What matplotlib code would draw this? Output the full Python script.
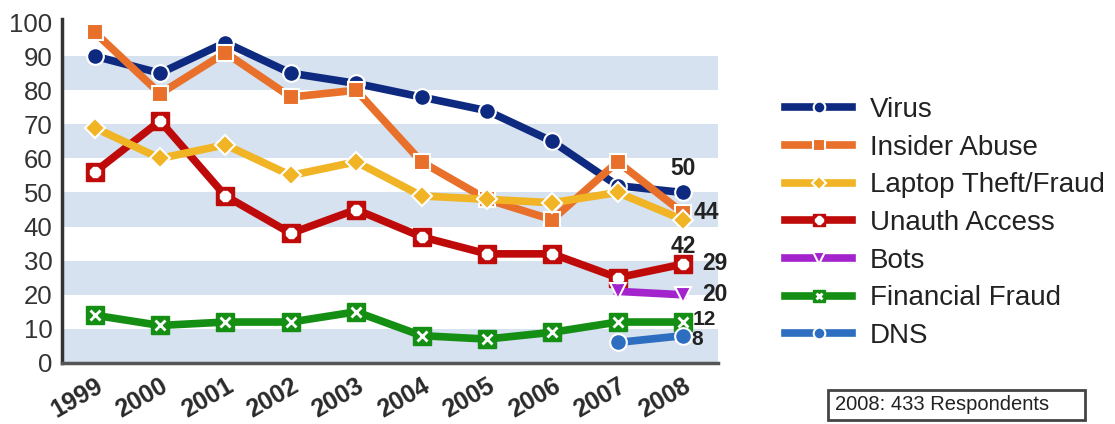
import numpy as np
import matplotlib
matplotlib.use("Agg")
import matplotlib.pyplot as plt
from matplotlib.patches import Rectangle
from matplotlib.legend_handler import HandlerTuple

# ─── Data ────────────────────────────────────────────────────────────
years = [1999, 2000, 2001, 2002, 2003, 2004, 2005, 2006, 2007, 2008]
years_new = [2007, 2008]

virus = [90, 85, 94, 85, 82, 78, 74, 65, 52, 50]
insider_abuse = [97, 79, 91, 78, 80, 59, 48, 42, 59, 44]
laptop_theft = [69, 60, 64, 55, 59, 49, 48, 47, 50, 42]
unauth_access = [56, 71, 49, 38, 45, 37, 32, 32, 25, 29]
bots = [21, 20]
financial_fraud = [14, 11, 12, 12, 15, 8, 7, 9, 12, 12]
dns = [6, 8]

series_names = ["Virus", "Insider Abuse", "Laptop Theft/Fraud", "Unauth Access",
                "Bots", "Financial Fraud", "DNS"]
end_labels = ["50", "44", "42", "29", "20", "12", "8"]

# ─── Figure ──────────────────────────────────────────────────────────
plt.rcParams['font.family'] = ['Liberation Sans', 'DejaVu Sans']
fig = plt.figure(figsize=(11.15, 4.24), dpi=100)
ax = fig.add_axes([0.0556, 0.144, 0.588, 0.804])

# striped background
for lo in range(0, 100, 20):
    ax.axhspan(lo, lo + 10, color='#d6e2ef', zorder=0, lw=0)

lw = 5.5
ms = 12
navy = '#0d2a80'
orange = '#e8702a'
gold = '#f0b424'
red = '#bf0a0a'
purple = '#a324cc'
green = '#148f14'
blue = '#2d6ec0'

h_virus, = ax.plot(years, virus, color=navy, lw=lw, marker='o', ms=ms,
                   mec='white', mew=1.5, zorder=3)
h_ins, = ax.plot(years, insider_abuse, color=orange, lw=lw, marker='s', ms=ms,
                 mec='white', mew=1.5, zorder=4)
h_lap, = ax.plot(years, laptop_theft, color=gold, lw=lw, marker='D', ms=ms - 2,
                 mec='white', mew=1.5, zorder=5)
h_un, = ax.plot(years, unauth_access, color=red, lw=lw, marker='s', ms=ms + 1,
                mec=red, mew=1, zorder=3)
h_un2, = ax.plot(years, unauth_access, ls='none', marker='8', ms=8,
                 color='white', mec='white', zorder=3.5)
h_bot, = ax.plot(years_new, bots, color=purple, lw=lw, marker='v', ms=ms,
                 mec='white', mew=1.5, zorder=3)
h_fin, = ax.plot(years, financial_fraud, color=green, lw=lw, marker='s', ms=ms + 1,
                 mec=green, mew=1, zorder=3)
h_fin2, = ax.plot(years, financial_fraud, ls='none', marker='x', ms=7,
                  color='white', mew=2, zorder=3.5)
h_dns, = ax.plot(years_new, dns, color=blue, lw=lw, marker='o', ms=ms,
                 mec='white', mew=1.5, zorder=3)

# value labels at 2008 (pixel offsets from the 2008 point)
last_vals = [virus[-1], insider_abuse[-1], laptop_theft[-1], unauth_access[-1],
             bots[-1], financial_fraud[-1], dns[-1]]
offsets = [(0, 24), (11, 0), (0, -27), (19, 1), (19, 0), (10, 3), (8, -4)]
aligns = ['center', 'left', 'center', 'left', 'left', 'left', 'left']
sizes = [16.5, 16.5, 16.5, 16.5, 16.5, 15, 15]
for val, lab, off, ha, fs in zip(last_vals, end_labels, offsets, aligns, sizes):
    ax.annotate(lab, (years[-1], val), xytext=off, textcoords='offset pixels',
                ha=ha, va='center', fontsize=fs, fontweight='bold',
                color='#222222', zorder=6)

# axes styling
ax.set_xlim(1998.5, 2008.53)
ax.set_ylim(0, 100)
ax.set_yticks(range(0, 101, 10))
ax.set_xticks(years)
ax.set_xticklabels([str(y) for y in years], rotation=30, ha='right', va='top',
                   fontsize=18, fontweight='bold', color='#2a2a2a',
                   rotation_mode='anchor')
ax.tick_params(axis='y', labelsize=18.5, labelcolor='#333333', length=0, pad=7)
ax.tick_params(axis='x', length=0, pad=8)
for s in ['top', 'right']:
    ax.spines[s].set_visible(False)
ax.spines['left'].set_color('#333333')
ax.spines['left'].set_linewidth(2.5)
ax.spines['bottom'].set_color('#555555')
ax.spines['bottom'].set_linewidth(2.5)
ax.spines['left'].set_bounds(0, 101)

# legend
handles = [h_virus, h_ins, h_lap, (h_un, h_un2), h_bot, (h_fin, h_fin2), h_dns]
leg = fig.legend(handles, series_names, loc='upper left',
                 bbox_to_anchor=(0.682, 0.83), frameon=False, fontsize=20,
                 handlelength=2.4, handletextpad=0.65, labelspacing=0.42,
                 markerscale=0.7,
                 handler_map={tuple: HandlerTuple(ndivide=1, pad=0)})
for t in leg.get_texts():
    t.set_color('#222222')

# respondents box
fig.patches.append(Rectangle((828 / 1115, 1 - 420 / 424), 257 / 1115, 30 / 424,
                             transform=fig.transFigure, fc='white',
                             ec='#444444', lw=2))
fig.text(835 / 1115, 1 - 405 / 424, "2008: 433 Respondents", fontsize=14.5,
         color='#222222', va='center', ha='left')

fig.savefig('out.png', dpi=100)
